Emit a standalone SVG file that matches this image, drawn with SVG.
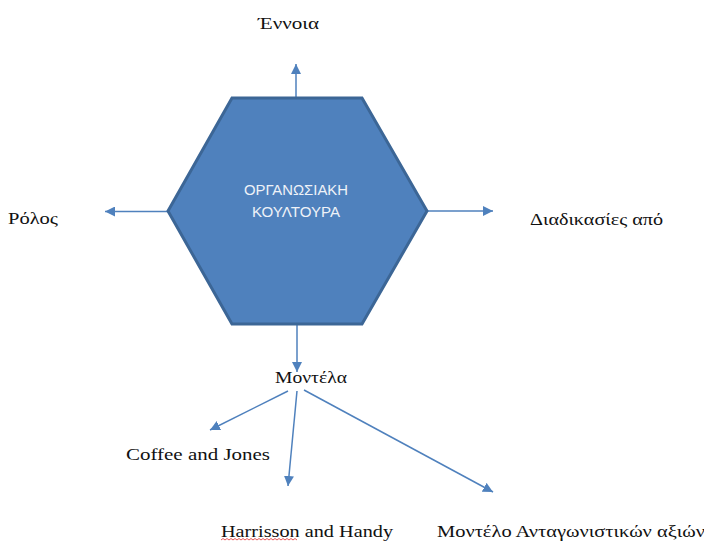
<svg xmlns="http://www.w3.org/2000/svg" width="704" height="541" viewBox="0 0 704 541">
  <style>
    .lbl { font-family: "Liberation Serif", "Times New Roman", serif; font-size: 17px; fill: #111111; }
    .inner { font-family: "Liberation Sans", Arial, sans-serif; font-size: 15px; fill: #eef2f8; }
    .conn { stroke: #4f81bd; stroke-width: 1.5; fill: none; marker-end: url(#arrow); }
  </style>
  <defs>
    <marker id="arrow" markerUnits="userSpaceOnUse" markerWidth="10" markerHeight="10" refX="10" refY="5" orient="auto">
      <path d="M0,0 L10,5 L0,10 Z" fill="#4f81bd"/>
    </marker>
  </defs>
  <rect width="704" height="541" fill="#ffffff"/>

  <g id="connectors">
    <line class="conn" x1="296" y1="97" x2="296" y2="64"/>
    <line class="conn" x1="168" y1="211.5" x2="105" y2="211.5"/>
    <line class="conn" x1="427" y1="211" x2="493" y2="211"/>
    <line class="conn" x1="297" y1="325" x2="297" y2="372"/>
    <line class="conn" x1="288" y1="391" x2="210" y2="430"/>
    <line class="conn" x1="297" y1="391" x2="288" y2="486"/>
    <line class="conn" x1="304" y1="390" x2="493" y2="492"/>
  </g>

  <g id="node-culture">
    <polygon points="232,98 362,98 427,211 362,324 232,324 168,211" fill="#4f81bd" stroke="#3c6696" stroke-width="3" stroke-linejoin="miter"/>
    <text class="inner" x="244" y="195" textLength="104" lengthAdjust="spacingAndGlyphs">ΟΡΓΑΝΩΣΙΑΚΗ</text>
    <text class="inner" x="252" y="217" textLength="88" lengthAdjust="spacingAndGlyphs">ΚΟΥΛΤΟΥΡΑ</text>
  </g>

  <g id="node-ennoia">
    <text class="lbl" x="258" y="29" textLength="61" lengthAdjust="spacingAndGlyphs">Έννοια</text>
  </g>
  <g id="node-rolos">
    <text class="lbl" x="8" y="224" textLength="50" lengthAdjust="spacingAndGlyphs">Ρόλος</text>
  </g>
  <g id="node-diadikasies">
    <text class="lbl" x="530" y="225" textLength="133" lengthAdjust="spacingAndGlyphs">Διαδικασίες από</text>
  </g>
  <g id="node-montela">
    <text class="lbl" x="275" y="383" textLength="72" lengthAdjust="spacingAndGlyphs">Μοντέλα</text>
  </g>
  <g id="node-coffee">
    <text class="lbl" x="126" y="460" textLength="144" lengthAdjust="spacingAndGlyphs">Coffee and Jones</text>
  </g>
  <g id="node-harrisson">
    <text class="lbl" x="221" y="537" textLength="172" lengthAdjust="spacingAndGlyphs">Harrisson and Handy</text>
    <path d="M221,540 l2,-1.5 l2,1.5 l2,-1.5 l2,1.5 l2,-1.5 l2,1.5 l2,-1.5 l2,1.5 l2,-1.5 l2,1.5 l2,-1.5 l2,1.5 l2,-1.5 l2,1.5 l2,-1.5 l2,1.5 l2,-1.5 l2,1.5 l2,-1.5 l2,1.5 l2,-1.5 l2,1.5 l2,-1.5 l2,1.5 l2,-1.5 l2,1.5 l2,-1.5 l2,1.5 l2,-1.5 l2,1.5 l2,-1.5 l2,1.5 l2,-1.5 l2,1.5 l2,-1.5 l2,1.5 l2,-1.5 l2,1.5" fill="none" stroke="#e03030" stroke-width="0.8"/>
  </g>
  <g id="node-antagonistikes">
    <text class="lbl" x="437" y="537" textLength="268" lengthAdjust="spacingAndGlyphs">Μοντέλο Ανταγωνιστικών αξιών</text>
  </g>
</svg>
